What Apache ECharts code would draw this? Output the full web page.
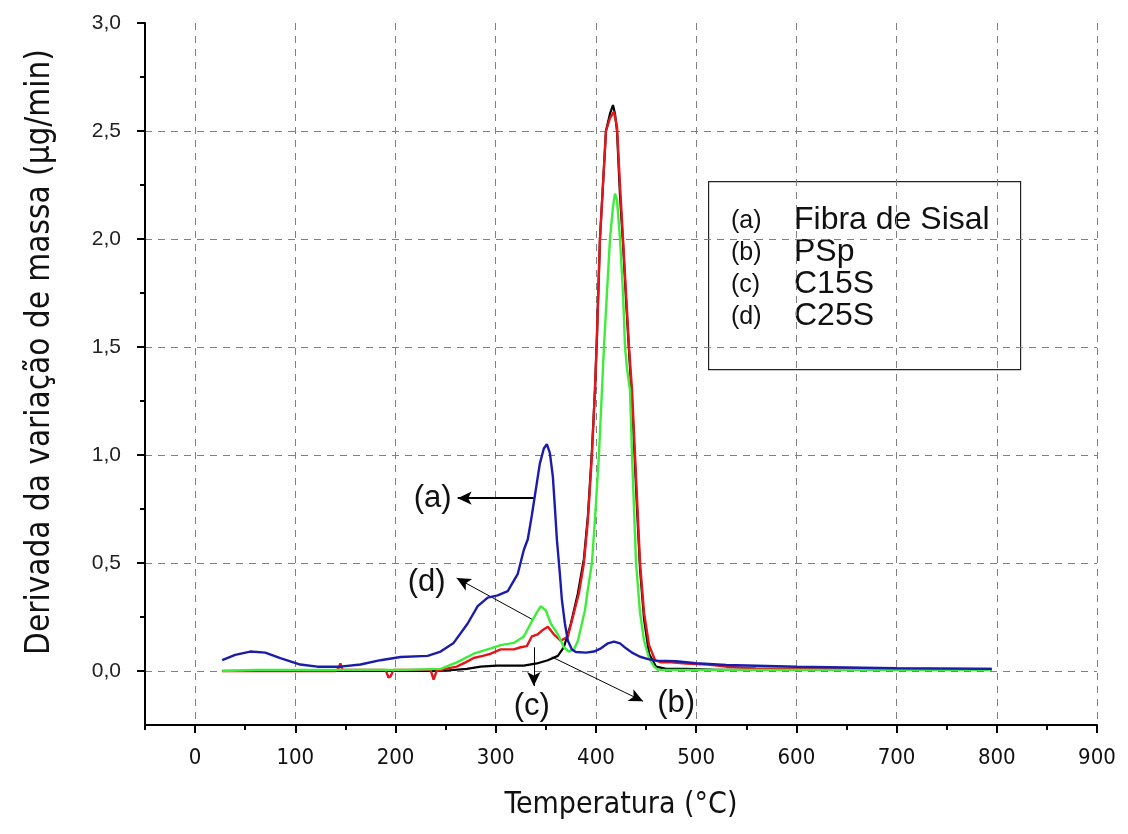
<!DOCTYPE html>
<html>
<head>
<meta charset="utf-8">
<script src="https://cdn.jsdelivr.net/npm/echarts@6/dist/echarts.min.js"></script>
<style>
  html, body { margin: 0; padding: 0; background: #fff; }
  #chart { width: 1128px; height: 834px; }
</style>
</head>
<body>
<div id="chart"></div>
<script>
// ticks
var xMajorTicks = [0, 100, 200, 300, 400, 500, 600, 700, 800, 900];
var xMinorTicks = [-50, 50, 150, 250, 350, 450, 550, 650, 750, 850];
var yMajorTicks = [0, 0.5, 1, 1.5, 2, 2.5, 3];
var yGridValues = [0, 0.5, 1, 1.5, 2, 2.5];
var yMinorTicks = [0.25, 0.75, 1.25, 1.75, 2.25, 2.75];

// (a) Fibra de Sisal - azul
var tempA = [27, 40, 55, 70, 85, 105, 122, 145, 165, 185, 205, 232, 245, 258, 272, 282, 292, 302, 312, 322, 328, 332, 336, 340, 344, 348, 351, 354, 357, 359, 361, 364, 366, 369, 372, 376, 380, 390, 398, 405, 412, 418, 424, 430, 436, 444, 452, 460, 480, 500, 530, 600, 700, 795];
var dtgA = [0.05, 0.075, 0.09, 0.085, 0.06, 0.03, 0.02, 0.02, 0.03, 0.05, 0.065, 0.07, 0.09, 0.13, 0.22, 0.30, 0.34, 0.35, 0.37, 0.45, 0.56, 0.61, 0.72, 0.84, 0.96, 1.03, 1.05, 1.01, 0.90, 0.76, 0.61, 0.45, 0.33, 0.22, 0.14, 0.10, 0.088, 0.085, 0.09, 0.105, 0.128, 0.136, 0.128, 0.105, 0.085, 0.066, 0.055, 0.048, 0.045, 0.036, 0.028, 0.02, 0.013, 0.01];

// (b) PSp - preto
var tempB = [27, 100, 200, 245, 271, 285, 301, 315, 328, 341, 352, 362, 368, 375, 382, 388, 392, 396, 399, 401, 404, 407, 410, 414, 417, 419, 421, 424, 427, 430, 433, 436, 439, 441, 444, 448, 453, 460, 470, 490, 520, 600, 700, 795];
var dtgB = [0, 0, 0, 0, 0.01, 0.02, 0.025, 0.025, 0.025, 0.035, 0.05, 0.07, 0.11, 0.22, 0.36, 0.52, 0.72, 1.02, 1.30, 1.55, 2.0, 2.25, 2.5, 2.58, 2.62, 2.58, 2.5, 2.2, 1.98, 1.72, 1.48, 1.25, 0.95, 0.75, 0.47, 0.24, 0.08, 0.02, 0.01, 0.01, 0.005, 0.005, 0.005, 0.005];

// (c) C15S - vermelho
var tempC = [27, 60, 100, 140, 143, 145, 147, 160, 190, 193, 195, 198, 220, 235, 238, 241, 250, 261, 270, 278, 287, 295, 305, 312, 318, 325, 331, 336, 342, 347, 352, 358, 365, 372, 378, 383, 388, 392, 396, 399, 401, 404, 407, 410, 414, 418, 421, 424, 427, 430, 433, 436, 439, 441, 444, 448, 453, 459, 465, 475, 490, 512, 530, 560, 600, 700, 795];
var dtgC = [0, 0, 0, 0, 0.01, 0.035, 0.005, 0.005, 0.005, -0.03, -0.025, 0.005, 0.005, 0.005, -0.04, 0.0, 0.01, 0.02, 0.04, 0.06, 0.07, 0.08, 0.10, 0.10, 0.10, 0.11, 0.115, 0.16, 0.17, 0.19, 0.205, 0.17, 0.14, 0.16, 0.27, 0.36, 0.5, 0.7, 1.0, 1.3, 1.55, 2.0, 2.25, 2.5, 2.56, 2.59, 2.52, 2.25, 2.0, 1.75, 1.5, 1.3, 1.0, 0.8, 0.5, 0.27, 0.12, 0.05, 0.04, 0.04, 0.035, 0.03, 0.02, 0.012, 0.01, 0.01, 0.01];

// (d) C25S - verde
var tempD = [27, 60, 100, 150, 211, 245, 261, 278, 295, 305, 318, 328, 336, 341, 345, 350, 355, 362, 368, 373, 378, 382, 385, 389, 392, 396, 399, 403, 406, 408, 411, 414, 417, 419, 421, 424, 427, 429, 431, 434, 436, 440, 444, 448, 453, 458, 462, 480, 520, 600, 700, 795];
var dtgD = [0, 0.005, 0.005, 0.005, 0.005, 0.01, 0.04, 0.08, 0.105, 0.12, 0.13, 0.16, 0.23, 0.27, 0.30, 0.28, 0.22, 0.17, 0.11, 0.09, 0.10, 0.14, 0.20, 0.28, 0.38, 0.5, 0.7, 1.0, 1.3, 1.5, 1.75, 2.0, 2.15, 2.21, 2.18, 2.0, 1.75, 1.5, 1.4, 1.3, 1.0, 0.5, 0.27, 0.14, 0.06, 0.02, 0.005, 0.005, 0.005, 0.005, 0.005, 0.005];

// anotações
var annotLabels = ['(a)', '(b)', '(c)', '(d)'];
var annotTextX = [237, 480, 336, 231];
var annotTextY = [0.80, -0.15, -0.165, 0.41];
var arrowFrom = [[338, 0.80], [356, 0.065], [338, 0.11], [336, 0.24]];
var arrowTo = [[262, 0.80], [447, -0.14], [338, -0.07], [261, 0.43]];

// legenda
var legendTags = ['(a)', '(b)', '(c)', '(d)'];
var legendNames = ['Fibra de Sisal', 'PSp', 'C15S', 'C25S'];

function zip(xs, ys) {
    var out = [];
    for (var i = 0; i < xs.length; i++) {
        out.push([xs[i], ys[i]]);
    }
    return out;
}

var narrow = "'Liberation Sans Narrow', 'DejaVu Sans Condensed', sans-serif";
var arial = "'Liberation Sans', Arial, sans-serif";
var gridDash = { color: '#808080', width: 1, type: [7, 6] };
var tickStyle = { color: '#000', width: 2 };

var myChart = echarts.init(document.getElementById('chart'));

var legendGraphic = [{
    type: 'rect',
    left: 708, top: 181,
    shape: { width: 312, height: 188 },
    style: { fill: '#fff', stroke: '#222', lineWidth: 1.2 }
}];
for (var i = 0; i < legendTags.length; i++) {
    legendGraphic.push({
        type: 'text', left: 731, top: 209 + i * 32,
        style: { text: legendTags[i], font: '25px ' + arial, fill: '#111' }
    });
    legendGraphic.push({
        type: 'text', left: 794, top: 204 + i * 32,
        style: { text: legendNames[i], font: '32px ' + arial, fill: '#111' }
    });
}

var arrowLines = [];
for (var k = 0; k < arrowFrom.length; k++) {
    arrowLines.push([
        { coord: arrowFrom[k], lineStyle: { width: k === 0 ? 2 : 1 } },
        { coord: arrowTo[k] }
    ]);
}

var option = {
    backgroundColor: '#fff',
    animation: false,
    grid: { left: 145, right: 31, top: 23, bottom: 109 },
    xAxis: [
        {
            type: 'value', min: -50, max: 900, position: 'bottom',
            name: 'Temperatura (°C)', nameLocation: 'middle', nameGap: 65,
            nameTextStyle: { fontFamily: narrow, fontSize: 30, color: '#111' },
            axisLine: { show: true, onZero: false, lineStyle: { color: '#000', width: 2 } },
            axisTick: { show: true, customValues: xMajorTicks, length: 8, lineStyle: tickStyle },
            axisLabel: { customValues: xMajorTicks, margin: 22, fontFamily: narrow, fontSize: 22, color: '#111' },
            splitLine: { show: true, lineStyle: gridDash }
        },
        {
            type: 'value', min: -50, max: 900, position: 'bottom',
            axisLine: { show: false, onZero: false },
            axisTick: { show: true, customValues: xMinorTicks, length: 5, lineStyle: tickStyle },
            axisLabel: { show: false },
            splitLine: { show: false }
        }
    ],
    yAxis: [
        {
            type: 'value', min: -0.25, max: 3, position: 'left',
            name: 'Derivada da variação de massa (μg/min)', nameLocation: 'middle', nameGap: 88,
            nameTextStyle: { fontFamily: narrow, fontSize: 33, color: '#111', padding: [0, 0, 0, 44] },
            axisLine: { show: true, onZero: false, lineStyle: { color: '#000', width: 2 } },
            axisTick: { show: true, customValues: yMajorTicks, length: 8, lineStyle: tickStyle },
            axisLabel: {
                customValues: yMajorTicks, margin: 24, fontFamily: arial, fontSize: 21, color: '#222',
                formatter: function(v) { return v.toFixed(1).replace('.', ','); }
            },
            splitLine: { show: false }
        },
        {
            type: 'value', min: -0.25, max: 3, position: 'left',
            axisLine: { show: false, onZero: false },
            axisTick: { show: false, customValues: yGridValues },
            axisLabel: { show: false },
            splitLine: { show: true, lineStyle: gridDash }
        },
        {
            type: 'value', min: -0.25, max: 3, position: 'left',
            axisLine: { show: false, onZero: false },
            axisTick: { show: true, customValues: yMinorTicks, length: 5, lineStyle: tickStyle },
            axisLabel: { show: false },
            splitLine: { show: false }
        }
    ],
    graphic: legendGraphic,
    series: [
        {
            name: 'PSp', type: 'line', showSymbol: false, symbol: 'none',
            lineStyle: { color: '#000', width: 2.2 },
            data: zip(tempB, dtgB), z: 2
        },
        {
            name: 'C15S', type: 'line', showSymbol: false, symbol: 'none',
            lineStyle: { color: '#e3161c', width: 2.4 },
            data: zip(tempC, dtgC), z: 3
        },
        {
            name: 'C25S', type: 'line', showSymbol: false, symbol: 'none',
            lineStyle: { color: '#3ded3a', width: 2.4 },
            data: zip(tempD, dtgD), z: 4
        },
        {
            name: 'Fibra de Sisal', type: 'line', showSymbol: false, symbol: 'none',
            lineStyle: { color: '#1c1caa', width: 2.4 },
            data: zip(tempA, dtgA), z: 5
        },
        {
            name: 'anotacoes', type: 'scatter', symbolSize: 0, z: 6,
            itemStyle: { opacity: 1 },
            data: zip(annotTextX, annotTextY),
            label: {
                show: true, position: 'inside',
                fontFamily: arial, fontSize: 31, color: '#111',
                formatter: function(p) { return annotLabels[p.dataIndex]; }
            },
            markLine: {
                silent: true, symbol: ['none', 'arrow'], symbolSize: [10, 14],
                label: { show: false },
                lineStyle: { color: '#000', width: 1, type: 'solid' },
                data: arrowLines
            }
        }
    ]
};

myChart.setOption(option);
</script>
</body>
</html>
